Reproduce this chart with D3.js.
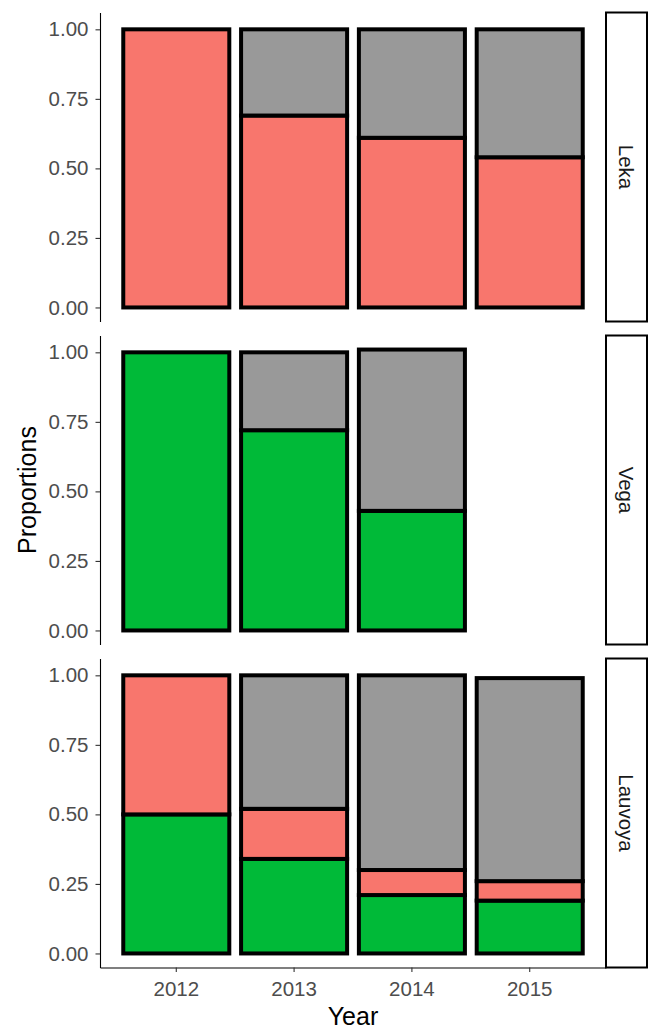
<!DOCTYPE html>
<html>
<head>
<meta charset="utf-8">
<script src="https://cdn.jsdelivr.net/npm/d3@7"></script>
<style>
  body { margin: 0; background: #fff; }
  svg { display: block; font-family: "Liberation Sans", Arial, sans-serif; }
</style>
</head>
<body>
<div id="chart"></div>
<script>
// data (proportions per year, stacked bottom -> top: green, red, grey)
const years = ["2012", "2013", "2014", "2015"];
const sites = ["Leka", "Vega", "Lauvoya"];
const groups = ["green", "red", "grey"];
const yTicks = [0, 0.25, 0.5, 0.75, 1];

const lekaGreen = [0, 0, 0, 0];
const lekaRed = [1, 0.69, 0.61, 0.54];
const lekaGrey = [0, 0.31, 0.39, 0.46];

const vegaGreen = [1, 0.72, 0.43, null];
const vegaRed = [0, 0, 0, null];
const vegaGrey = [0, 0.28, 0.58, null];

const lauvoyaGreen = [0.5, 0.34, 0.21, 0.19];
const lauvoyaRed = [0.5, 0.18, 0.09, 0.07];
const lauvoyaGrey = [0, 0.48, 0.7, 0.73];

const siteValues = {
  Leka: [lekaGreen, lekaRed, lekaGrey],
  Vega: [vegaGreen, vegaRed, vegaGrey],
  Lauvoya: [lauvoyaGreen, lauvoyaRed, lauvoyaGrey],
};

const fills = { green: "#00BA38", red: "#F8766D", grey: "#999999" };

//sizes
const width = 648, height = 1030;
const panelLeft = 100, panelRight = 606;
const panelTop = 12.5, panelH = 309, panelGap = 14;
const stripW = 41;

const svg = d3.select("#chart").append("svg")
  .attr("width", width)
  .attr("height", height);

// build table rows per site/year
function rowsFor(site) {
  const vals = siteValues[site];
  return years.map((yr, i) => {
    const row = { year: yr, missing: vals[0][i] == null };
    groups.forEach((g, k) => { row[g] = vals[k][i] || 0; });
    return row;
  }).filter(r => !r.missing);
}

const allRows = sites.flatMap(rowsFor);
const yMax = d3.max(allRows, r => r.green + r.red + r.grey);

const x = d3.scaleBand()
  .domain(years)
  .range([panelLeft, panelRight])
  .paddingInner(0.1)
  .paddingOuter(0.1975);

const y = d3.scaleLinear()
  .domain([-0.05 * yMax, 1.05 * yMax])
  .range([panelH, 0]);

const stack = d3.stack().keys(groups);

sites.forEach((site, si) => {
  const top = panelTop + si * (panelH + panelGap);
  const g = svg.append("g").attr("transform", `translate(0,${top})`);

  const series = stack(rowsFor(site));
  series.forEach(s => {
    g.append("g")
      .selectAll("rect")
      .data(s.filter(d => d[1] - d[0] > 0))
      .enter()
      .append("rect")
      .attr("x", d => x(d.data.year))
      .attr("y", d => y(d[1]))
      .attr("width", x.bandwidth())
      .attr("height", d => y(d[0]) - y(d[1]))
      .attr("fill", fills[s.key])
      .attr("stroke", "#000")
      .attr("stroke-width", 4)
      .attr("stroke-linejoin", "miter");
  });

  // y axis
  const ya = g.append("g")
    .attr("transform", `translate(${panelLeft},0)`)
    .call(d3.axisLeft(y).tickValues(yTicks).tickFormat(d3.format(".2f"))
      .tickSize(4.5).tickSizeOuter(0).tickPadding(7));
  ya.select(".domain").attr("stroke", "#000").attr("stroke-width", 1.1);
  ya.selectAll(".tick line").attr("stroke", "#333").attr("stroke-width", 1.1);
  ya.selectAll(".tick text")
    .style("font-size", "20.5px")
    .attr("fill", "#4D4D4D");

  // strip on the right
  g.append("rect")
    .attr("x", panelRight)
    .attr("y", 0)
    .attr("width", stripW)
    .attr("height", panelH)
    .attr("fill", "#fff")
    .attr("stroke", "#000")
    .attr("stroke-width", 2);
  g.append("text")
    .attr("transform", `translate(${panelRight + stripW / 2},${panelH / 2}) rotate(90)`)
    .attr("text-anchor", "middle")
    .attr("dy", "0.35em")
    .style("font-size", "20.5px")
    .attr("fill", "#1A1A1A")
    .text(site);

  // x axis only under the last panel
  if (si === sites.length - 1) {
    const xa = g.append("g")
      .attr("transform", `translate(0,${panelH})`)
      .call(d3.axisBottom(x).tickSize(4.5).tickSizeOuter(0).tickPadding(9));
    xa.select(".domain").attr("stroke", "#000").attr("stroke-width", 1.1);
    xa.selectAll(".tick line").attr("stroke", "#333").attr("stroke-width", 1.1);
    xa.selectAll(".tick text")
      .style("font-size", "20.5px")
      .attr("fill", "#4D4D4D");
  }
});

// axis titles
svg.append("text")
  .attr("x", (panelLeft + panelRight) / 2)
  .attr("y", 1025)
  .attr("text-anchor", "middle")
  .style("font-size", "25px")
  .attr("fill", "#000")
  .text("Year");

const plotMid = panelTop + (3 * panelH + 2 * panelGap) / 2;
svg.append("text")
  .attr("transform", `translate(36,${plotMid}) rotate(-90)`)
  .attr("text-anchor", "middle")
  .style("font-size", "25px")
  .attr("fill", "#000")
  .text("Proportions");
</script>
</body>
</html>
